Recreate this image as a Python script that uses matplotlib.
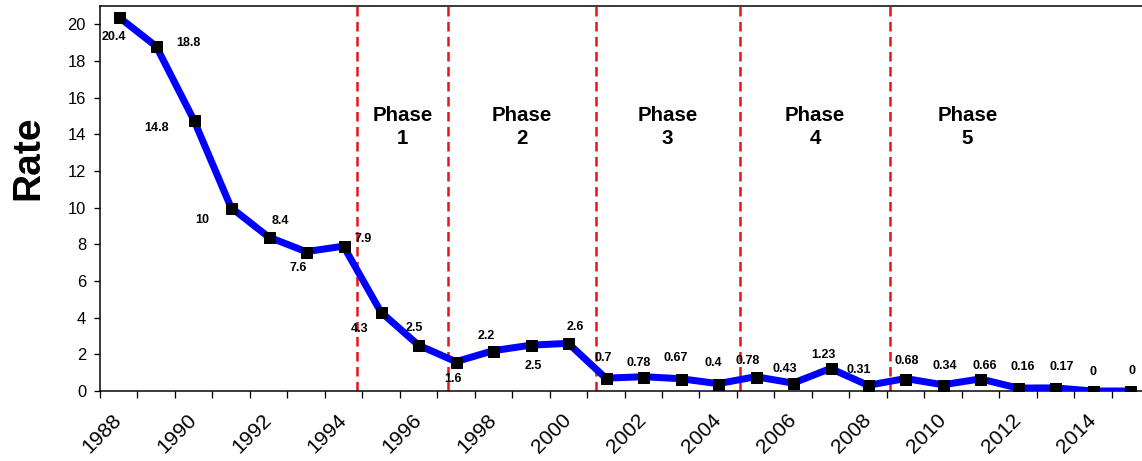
import numpy as np
import matplotlib
matplotlib.use("Agg")
import matplotlib.pyplot as plt

plt.rcParams["font.family"] = ["Liberation Sans", "DejaVu Sans"]

# Rate per year
years = list(range(1988, 2016))
rates = [20.4, 18.8, 14.8, 10, 8.4, 7.6, 7.9, 4.3, 2.5, 1.6, 2.2, 2.5, 2.6, 0.7,
         0.78, 0.67, 0.4, 0.78, 0.43, 1.23, 0.31, 0.68, 0.34, 0.66, 0.16, 0.17, 0, 0]
rate_labels = ["20.4", "18.8", "14.8", "10", "8.4", "7.6", "7.9", "4.3", "2.5", "1.6",
               "2.2", "2.5", "2.6", "0.7", "0.78", "0.67", "0.4", "0.78", "0.43", "1.23",
               "0.31", "0.68", "0.34", "0.66", "0.16", "0.17", "0", "0"]

# label offsets (points) relative to each marker, as placed in the original
label_dx = [-5, 32, -37, -29, 12, -8, 20, -21, -4, -3, -7, 2, 7, -3,
            -5, -5, -5, -8, -8, -7, -9, 1, 2, 4, 5, 6, 0, 2]
label_dy = [-20, 3, -8, -12, 16, -16, 7, -17, 17, -17, 15, -21, 16, 20,
            14, 21, 21, 16, 14, 13, 15, 18, 19, 13, 21, 21, 19, 20]

# phase boundaries (year positions of the dashed lines)
phase_names = ["Phase\n1", "Phase\n2", "Phase\n3", "Phase\n4", "Phase\n5"]
phase_starts = [1994.35, 1996.8, 2000.73, 2004.57, 2008.6]
phase_ends = [1996.8, 2000.73, 2004.57, 2008.6, 2012.7]

fig = plt.figure(figsize=(1142 / 72, 461 / 72), dpi=72)
ax = fig.add_axes([100 / 1142, 70 / 461, 1049 / 1142, 385 / 461])

ax.plot(years, rates, color="#0000ff", lw=7, marker="s", ms=11,
        mfc="black", mec="black", zorder=3, solid_joinstyle="miter")

for x, v, txt, dx, dy in zip(years, rates, rate_labels, label_dx, label_dy):
    ax.annotate(txt, (x, v), xytext=(dx, dy), textcoords="offset points",
                ha="center", va="center", fontsize=12.5, fontweight="bold", zorder=4)

for xs in phase_starts:
    ax.axvline(xs, color="#e8141c", lw=2.5, ls=(0, (3.8, 2.2)), zorder=2)

for name, a, b in zip(phase_names, phase_starts, phase_ends):
    ax.text((a + b) / 2, 14.4, name, ha="center", va="center", fontsize=20.5,
            fontweight="bold", linespacing=1.25)

ax.set_xlim(1987.5, 2015.5)
ax.set_ylim(0, 21)
ax.set_yticks(range(0, 21, 2))
ax.tick_params(axis="y", labelsize=16.5, length=6, width=1.3, pad=8)

# tick marks between categories, labels on even years
ax.set_xticks(np.arange(1987.5, 2016, 1))
ax.set_xticklabels([])
ax.tick_params(axis="x", which="major", length=7, width=1.3)
even_years = years[::2]
ax.set_xticks(even_years, minor=True)
ax.set_xticklabels([str(y) for y in even_years], minor=True, rotation=45,
                   ha="right", va="center", rotation_mode="anchor", fontsize=21)
ax.tick_params(axis="x", which="minor", length=0, pad=26)

for s in ax.spines.values():
    s.set_linewidth(1.5)

fig.text(28 / 1142, 1 - 158 / 461, "Rate", rotation=90, ha="center", va="center",
         fontsize=39, fontweight="bold")

fig.savefig("out.png", dpi=72)
